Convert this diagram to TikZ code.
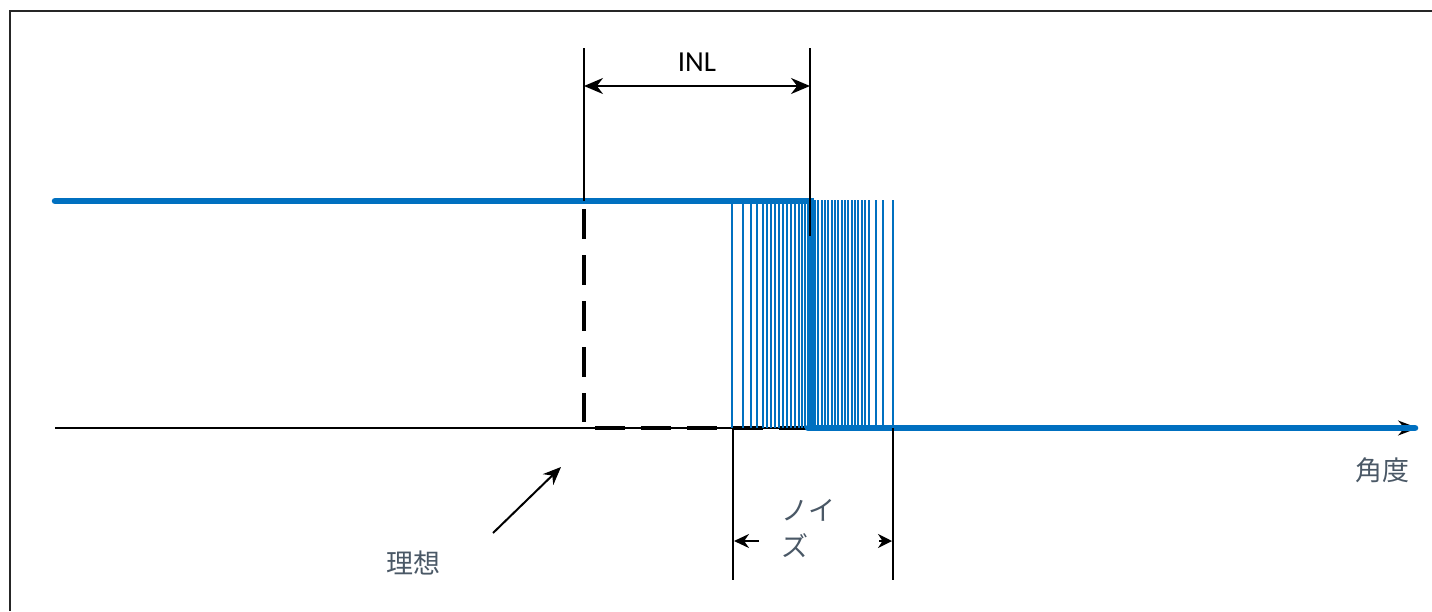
\documentclass[tikz,border=0pt]{standalone}
\usepackage{fontspec}
\setmainfont{Carlito}
\newfontfamily\cjk{Noto Sans CJK JP}
\usetikzlibrary{arrows.meta}
\definecolor{sigblue}{HTML}{0070C0}
\definecolor{labgray}{HTML}{4A5866}
\definecolor{framegray}{HTML}{262626}
\tikzset{
  frameline/.style={draw=framegray,line width=2.5pt},
  sigline/.style={draw=sigblue,line width=6.5pt},
  noiseline/.style={draw=sigblue,line width=1.8pt},
  guide/.style={draw=black,line width=2pt},
  idealdash/.style={draw=black,line width=4pt,dash pattern=on 30pt off 16pt},
  cjklabel/.style={font=\cjk\fontsize{27}{32}\selectfont,text=labgray,inner sep=0pt},
  dimarrow/.style={draw=black,line width=2pt,{Stealth[length=19pt,width=16pt]}-{Stealth[length=19pt,width=16pt]}},
}
\begin{document}
\begin{tikzpicture}[x=1pt,y=-1pt]
\useasboundingbox (0,0) rectangle (1432,611);
% frame (top and left edges)
\draw[frameline] (10,611) -- (10,11) -- (1432,11);
% coordinates
\coordinate (topL) at (55,201);
\coordinate (axL) at (55,428);
\coordinate (axR) at (1418,428);
\coordinate (idT) at (584,201);
\coordinate (idB) at (584,428);
\coordinate (stepT) at (810,201);
\coordinate (stepB) at (810,428);
% axis
\draw[draw=black,line width=1.8pt,-{Stealth[length=20pt,width=15pt]}] (axL) -- (axR);
% ideal dashed step
\draw[idealdash,dash phase=-8pt] (idT) -- (584,422);
\draw[idealdash,dash phase=-11pt] (idB) -- (stepB);
% noise lines
\foreach \x in {732.3,742.7,750.7,757.3,762.7,766.7,770.7,774.7,778.7,782.7,786.7,790.7,794.7,798.7,802,805.3,808.7,
  815,818.3,821.7,825,828.3,831.7,835,838.3,841.7,845,848.3,851.7,855,858.3,861.7,865,869.3,876,882.7,892.7}
  \draw[noiseline] (\x,200) -- (\x,428);
% actual signal
\draw[sigline,line cap=round] (topL) -- (stepT);
\draw[draw=sigblue,line width=7pt] (810,198) -- (stepB);
\draw[sigline,line cap=round] (808,428) -- (1415,428);
% INL guides
\coordinate (g1t) at (584,48);
\coordinate (g2t) at (810,48);
\coordinate (g2b) at (810,236);
\draw[guide] (g1t) -- (idT);
\draw[guide] (g2t) -- (g2b);
\draw[dimarrow] (584,86) -- (810,86);
\node[font=\fontsize{29}{34}\selectfont,inner sep=0pt] (inl) at (697,62) {INL};
% noise bracket
\coordinate (n1t) at (733,428);
\coordinate (n1b) at (733,580);
\coordinate (n2t) at (893,428);
\coordinate (n2b) at (893,580);
\draw[guide] (n1t) -- (n1b);
\draw[guide] (n2t) -- (n2b);
\draw[draw=black,line width=2pt,-{Stealth[length=15pt,width=14pt]}] (759,541) -- (734,541);
\draw[draw=black,line width=2pt,-{Stealth[length=14pt,width=14pt]}] (879,541) -- (892,541);
\node[cjklabel] (noise1) at (808,510) {ノイ};
\node[cjklabel] (noise2) at (795,546) {ズ};
% ideal label
\node[cjklabel] (ideal) at (413,563) {理想};
\coordinate (idp) at (561,467);
\draw[draw=black,line width=2pt,-{Stealth[length=18pt,width=15pt]}] (493,533) -- (idp);
% angle label
\node[cjklabel] (angle) at (1382,470) {角度};
\end{tikzpicture}
\end{document}
